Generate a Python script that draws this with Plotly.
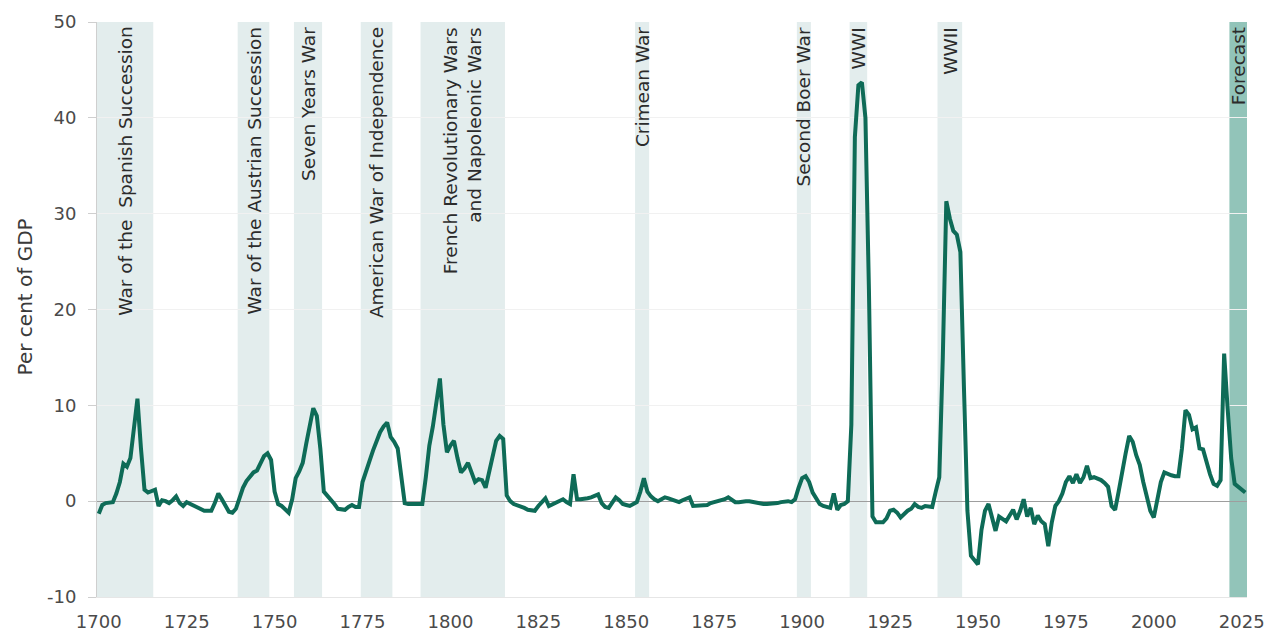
import plotly.graph_objects as go

# ---------------- data ----------------
years = list(range(1700, 2027))

balance = [
    # 1700-1709
    -1.3, -0.4, -0.2, -0.2, -0.1, 0.8, 2.0, 3.9, 3.6, 4.5,
    # 1710-1719
    8.0, 10.7, 5.5, 1.2, 0.9, 1.0, 1.2, -0.5, 0.1, 0.0,
    # 1720-1729
    -0.2, 0.1, 0.5, -0.2, -0.5, -0.1, -0.3, -0.4, -0.7, -0.9,
    # 1730-1739
    -1.0, -1.0, -1.0, -0.2, 0.8, 0.2, -0.4, -1.1, -1.2, -0.8,
    # 1740-1749
    0.3, 1.4, 2.1, 2.6, 3.0, 3.2, 4.0, 4.7, 5.0, 4.3,
    # 1750-1759
    1.0, -0.3, -0.5, -0.9, -1.2, 0.2, 2.4, 3.1, 4.0, 6.0,
    # 1760-1769
    8.0, 9.7, 8.9, 5.5, 1.0, 0.6, 0.2, -0.3, -0.8, -0.9,
    # 1770-1779
    -0.9, -0.6, -0.4, -0.6, -0.6, 2.0, 3.0, 4.2, 5.3, 6.2,
    # 1780-1789
    7.2, 7.8, 8.2, 6.7, 6.2, 5.5, 3.0, -0.2, -0.3, -0.3,
    # 1790-1799
    -0.3, -0.3, -0.3, 2.5, 5.8, 7.8, 10.5, 12.8, 8.0, 5.1,
    # 1800-1809
    5.8, 6.3, 4.5, 3.0, 3.4, 4.0, 3.0, 2.0, 2.3, 2.2,
    # 1810-1819
    1.4, 3.0, 4.8, 6.3, 6.8, 6.5, 0.6, 0.0, -0.3, -0.4,
    # 1820-1829
    -0.5, -0.7, -0.9, -1.0, -1.0, -0.5, -0.1, 0.3, -0.5, -0.3,
    # 1830-1839
    -0.1, 0.0, 0.2, -0.1, -0.3, 2.8, 0.2, 0.2, 0.2, 0.3,
    # 1840-1849
    0.4, 0.5, 0.7, -0.2, -0.6, -0.7, -0.2, 0.4, 0.1, -0.3,
    # 1850-1859
    -0.4, -0.5, -0.3, -0.1, 1.0, 2.4, 1.0, 0.5, 0.2, 0.0,
    # 1860-1869
    0.2, 0.4, 0.3, 0.2, 0.0, -0.1, 0.1, 0.3, 0.4, -0.5,
    # 1870-1879
    -0.5, -0.5, -0.5, -0.4, -0.2, -0.1, 0.0, 0.0, 0.2, 0.4,
    # 1880-1889
    0.1, -0.1, -0.1, 0.0, 0.0, 0.0, -0.1, -0.2, -0.3, -0.3,
    # 1890-1899
    -0.3, -0.3, -0.3, -0.2, -0.1, 0.0, 0.0, -0.1, 0.2, 1.4,
    # 1900-1909
    2.4, 2.6, 2.0, 0.9, 0.3, -0.3, -0.5, -0.6, -0.7, 0.8,
    # 1910-1919
    -0.9, -0.4, -0.3, 0.0, 8.0, 38.0, 43.4, 43.7, 40.0, 22.0,
    # 1920-1929
    -1.6, -2.2, -2.2, -2.2, -1.8, -1.0, -0.9, -1.2, -1.7, -1.3,
    # 1930-1939
    -1.0, -0.8, -0.3, -0.6, -0.7, -0.5, -0.5, -0.6, 1.0, 2.5,
    # 1940-1949
    15.0, 31.3, 29.5, 28.2, 27.8, 26.0, 12.0, -1.0, -5.7, -6.1,
    # 1950-1959
    -6.6, -3.0, -1.0, -0.3, -1.8, -3.1, -1.6, -1.8, -2.1, -1.5,
    # 1960-1969
    -0.9, -1.9, -1.0, 0.2, -1.6, -0.7, -2.4, -1.5, -2.1, -2.4,
    # 1970-1979
    -4.7, -2.2, -0.5, 0.0, 0.8, 2.0, 2.6, 1.9, 2.8, 1.9,
    # 1980-1989
    2.5, 3.7, 2.4, 2.5, 2.4, 2.2, 1.9, 1.5, -0.5, -0.9,
    # 1990-1999
    1.0, 3.3, 5.0, 6.8, 6.2, 4.8, 3.8, 2.0, 0.5, -1.0,
    # 2000-2009
    -1.7, 0.2, 2.0, 3.0, 2.8, 2.7, 2.6, 2.6, 5.5, 9.5,
    # 2010-2019
    9.0, 7.5, 7.7, 5.5, 5.4, 4.0, 2.8, 1.8, 1.6, 2.2,
    # 2020-2026
    15.4, 9.6, 4.5, 1.8, 1.5, 1.2, 0.9,
]

war_names = [
    "War of the  Spanish Succession",
    "War of the Austrian Succession",
    "Seven Years War",
    "American War of Independence",
    "French Revolutionary Wars<br>and Napoleonic Wars",
    "Crimean War",
    "Second Boer War",
    "WWI",
    "WWII",
]
war_start = [1700, 1740, 1756, 1775, 1792, 1853, 1899, 1914, 1939]
war_end = [1715, 1748, 1763, 1783, 1815, 1856, 1902, 1918, 1945]

forecast_label = "Forecast"
forecast_start = 2022
forecast_end = 2026

y_ticks = [-10, 0, 10, 20, 30, 40, 50]
y_tick_labels = ["-10", "0", "10", "20", "30", "40", "50"]
x_ticks = [1700, 1725, 1750, 1775, 1800, 1825, 1850, 1875, 1900, 1925, 1950, 1975, 2000, 2025]

# ---------------- styles ----------------
LINE_COLOR = "#0e6b57"
BAND_COLOR = "#e3eded"
FORECAST_COLOR = "#92c4b9"
FONT = "DejaVu Sans"
LABEL_SIZE = 18.5

fig = go.Figure()

fig.add_trace(go.Scatter(
    x=years, y=balance, mode="lines",
    line=dict(color=LINE_COLOR, width=4),
    hoverinfo="skip", showlegend=False,
))

shapes = []
annotations = []
for name, s, e in zip(war_names, war_start, war_end):
    shapes.append(dict(type="rect", xref="x", yref="paper",
                       x0=s - 0.5, x1=e + 0.5, y0=0, y1=1,
                       fillcolor=BAND_COLOR, line=dict(width=0), layer="below"))
    annotations.append(dict(x=(s + e) / 2, xref="x", y=1, yref="paper",
                            text=name, textangle=-90, showarrow=False,
                            xanchor="center", yanchor="top", yshift=-3,
                            align="right",
                            font=dict(family=FONT, size=LABEL_SIZE, color="#2b2b2b")))

shapes.append(dict(type="rect", xref="x", yref="paper",
                   x0=forecast_start - 0.5, x1=forecast_end + 0.5, y0=0, y1=1,
                   fillcolor=FORECAST_COLOR, line=dict(width=0), layer="below"))
annotations.append(dict(x=(forecast_start + forecast_end) / 2, xref="x", y=1, yref="paper",
                        text=forecast_label, textangle=-90, showarrow=False,
                        xanchor="center", yanchor="top", yshift=-3,
                        font=dict(family=FONT, size=LABEL_SIZE, color="#2b2b2b")))

annotations.append(dict(x=-0.063, xref="paper", y=0.522, yref="paper",
                        text="Per cent of GDP", textangle=-90, showarrow=False,
                        xanchor="center", yanchor="middle",
                        font=dict(family=FONT, size=20, color="#3a3a3a")))

# The page body adds an 8px offset, so the figure is sized/margined to compensate.
fig.update_layout(
    width=1264, height=624,
    margin=dict(l=89, r=25, t=14, b=35, autoexpand=False),
    paper_bgcolor="white", plot_bgcolor="white",
    shapes=shapes, annotations=annotations,
    showlegend=False,
    font=dict(family=FONT, size=18, color="#444444"),
)

fig.update_xaxes(
    range=[1699.5, 2026.5], automargin=False,
    tickmode="array", tickvals=x_ticks,
    showgrid=False, zeroline=False,
    showline=True, linecolor="#e6e6e6", linewidth=1,
    ticks="", ticklabelstandoff=8,
    tickfont=dict(family=FONT, size=18, color="#4a4a4a"),
)

fig.update_yaxes(
    range=[-10, 50], automargin=False,
    tickmode="array", tickvals=y_ticks, ticktext=y_tick_labels,
    showgrid=True, gridcolor="#f1f1f1", gridwidth=1,
    zeroline=True, zerolinecolor="#9e9e9e", zerolinewidth=1,
    showline=True, linecolor="#cfcfcf", linewidth=1,
    ticks="outside", ticklen=8, tickcolor="#cfcfcf",
    ticklabelstandoff=8,
    tickfont=dict(family=FONT, size=18, color="#4a4a4a"),
)

fig.write_html("out.html")
